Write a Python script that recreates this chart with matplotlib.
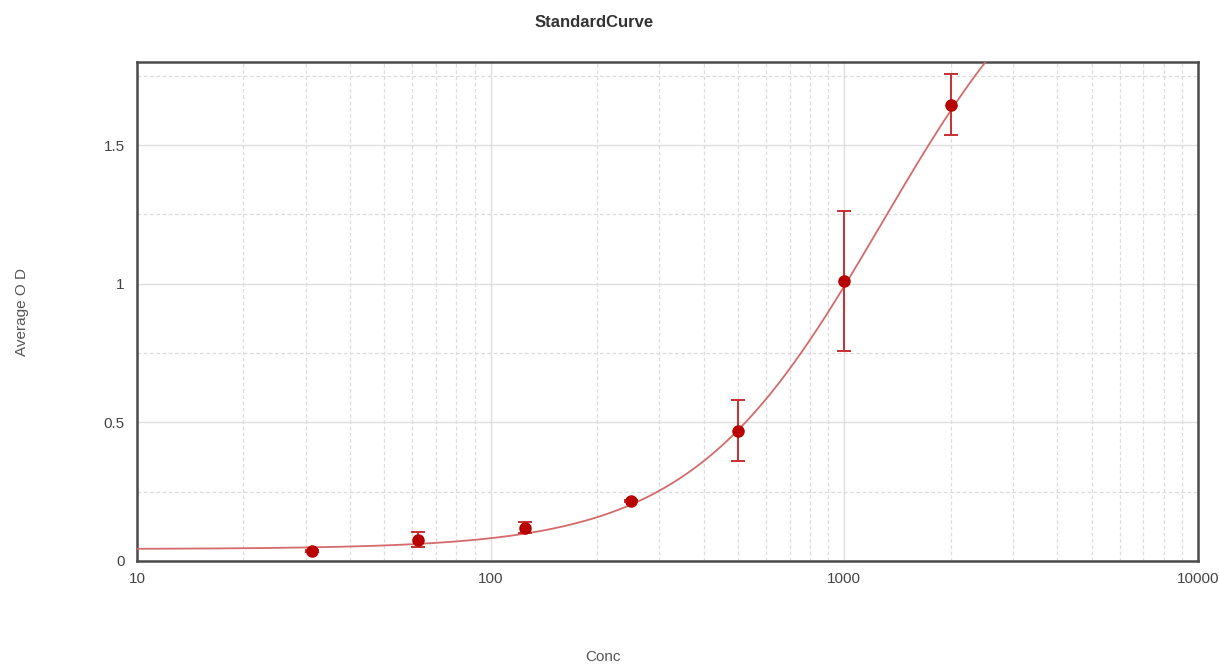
import matplotlib
matplotlib.use("Agg")
import matplotlib.pyplot as plt
import numpy as np
from matplotlib.ticker import FixedLocator, NullFormatter

plt.rcParams['font.family'] = ['Liberation Sans', 'DejaVu Sans']

# standards: concentration, mean OD and error
conc = [31.25, 62.5, 125, 250, 500, 1000, 2000]
avg_od = [0.036, 0.076, 0.120, 0.216, 0.469, 1.010, 1.645]
od_err = [0.004, 0.027, 0.020, 0.004, 0.110, 0.252, 0.110]

# 4 parameter logistic fit: bottom, top, ec50, hill slope
fit_a = 0.043
fit_d = 2.4
fit_c = 1280.0
fit_b = 1.6

def four_pl(x):
    return fit_d + (fit_a - fit_d) / (1 + (x / fit_c) ** fit_b)

fig = plt.figure(figsize=(12.19, 6.72), dpi=100)
ax = fig.add_axes([0.1124, 0.1652, 0.8704, 0.7425])

xs = np.logspace(1, 4, 400)
ax.plot(xs, four_pl(xs), color='#d46a6a', lw=1.3, zorder=3)
ax.errorbar(conc, avg_od, yerr=od_err, fmt='o', color='#b80000', ms=8,
            ecolor='#c83030', elinewidth=1.4, capsize=5, capthick=1.4, zorder=4)

ax.set_xscale('log')
ax.set_xlim(10, 10000)
ax.set_ylim(0, 1.8)

ax.xaxis.set_major_locator(FixedLocator([10, 100, 1000, 10000]))
ax.set_xticklabels(['10', '100', '1000', '10000'])
ax.xaxis.set_minor_locator(FixedLocator([m * 10 ** k for k in range(1, 4) for m in range(2, 10)]))
ax.xaxis.set_minor_formatter(NullFormatter())
ax.yaxis.set_major_locator(FixedLocator([0, 0.5, 1, 1.5]))
ax.set_yticklabels(['0', '0.5', '1', '1.5'])
ax.yaxis.set_minor_locator(FixedLocator([0.25, 0.75, 1.25, 1.75]))

ax.grid(which='major', color='#dedede', lw=1.0, ls='-')
ax.grid(which='minor', color='#dcdcdc', lw=0.9, ls=(0, (3, 2)))
ax.set_axisbelow(True)

ax.tick_params(which='both', length=0, labelsize=11, colors='#444444')
ax.tick_params(axis='x', pad=8)
ax.tick_params(axis='y', pad=9)

for s in ax.spines.values():
    s.set_color('#4a4a4a')
    s.set_linewidth(1.8)

fig.text(0.487, 0.967, 'StandardCurve', ha='center', va='center',
         fontsize=12, fontweight='bold', color='#333333')
fig.text(0.495, 0.022, 'Conc', ha='center', va='center', fontsize=11, color='#555555')
fig.text(0.018, 0.535, 'Average O D', ha='center', va='center', rotation=90,
         fontsize=11, color='#555555')

fig.savefig('out.png', dpi=100)
